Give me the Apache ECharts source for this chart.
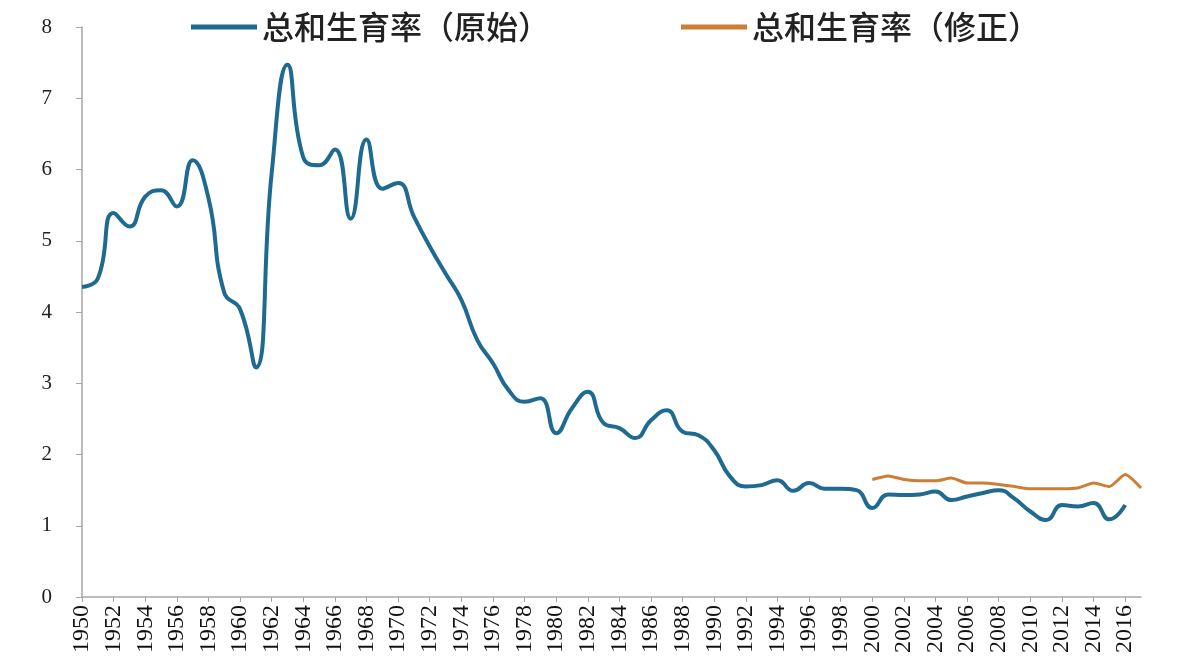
<!DOCTYPE html>
<html>
<head>
<meta charset="utf-8">
<script src="https://cdn.jsdelivr.net/npm/echarts@6/dist/echarts.min.js"></script>
<style>
html,body{margin:0;padding:0;background:#fff;}
#chart{width:1200px;height:668px;}
</style>
</head>
<body>
<div id="chart"></div>
<script>
var years = [];
for (var y = 1950; y <= 2017; y++) years.push(String(y));

var seriesNames = ['总和生育率（原始）', '总和生育率（修正）'];

var rawTFR = [
  4.35, 4.47, 5.39, 5.20, 5.62, 5.71, 5.48, 6.13, 5.60, 4.27,
  4.04, 3.22, 5.95, 7.47, 6.17, 6.06, 6.28, 5.31, 6.42, 5.73,
  5.81, 5.34, 4.92, 4.54, 4.17, 3.61, 3.28, 2.90, 2.74, 2.79,
  2.30, 2.65, 2.88, 2.44, 2.37, 2.23, 2.48, 2.62, 2.32, 2.27,
  2.06, 1.69, 1.55, 1.57, 1.64, 1.49, 1.60, 1.52, 1.52, 1.50,
  1.25, 1.44, 1.43, 1.44, 1.48, 1.36, 1.41, 1.46, 1.50, 1.38,
  1.20, 1.08, 1.29, 1.27, 1.32, 1.09, 1.29, null
];

var adjTFR = [
  null, null, null, null, null, null, null, null, null, null,
  null, null, null, null, null, null, null, null, null, null,
  null, null, null, null, null, null, null, null, null, null,
  null, null, null, null, null, null, null, null, null, null,
  null, null, null, null, null, null, null, null, null, null,
  1.65, 1.70, 1.65, 1.63, 1.63, 1.67, 1.60, 1.60, 1.58, 1.55,
  1.52, 1.52, 1.52, 1.53, 1.60, 1.55, 1.72, 1.53
];

var yTicks = [0, 1, 2, 3, 4, 5, 6, 7, 8];

var chart = echarts.init(document.getElementById('chart'));
var legendText = {fontFamily: '"Noto Sans CJK SC", sans-serif', fontSize: 32, fontWeight: 500, color: '#222'};
chart.setOption({
  backgroundColor: '#fff',
  animation: false,
  legend: [
    {data: [seriesNames[0]], left: 186, top: 6, icon: 'rect', itemWidth: 66, itemHeight: 5, itemGap: 6, textStyle: legendText},
    {data: [seriesNames[1]], left: 676, top: 6, icon: 'rect', itemWidth: 66, itemHeight: 5, itemGap: 6, textStyle: legendText}
  ],
  grid: {left: 82, right: 59, top: 27, bottom: 71, containLabel: false},
  xAxis: {
    type: 'category',
    data: years,
    boundaryGap: false,
    axisLine: {lineStyle: {color: '#a6a6a6', width: 1.5}},
    axisTick: {show: true, interval: 1, length: 5, lineStyle: {color: '#a6a6a6'}},
    axisLabel: {
      interval: 1, rotate: 90, margin: 8,
      fontFamily: '"Liberation Serif", serif', fontSize: 24, color: '#111'
    },
    splitLine: {show: false}
  },
  yAxis: {
    type: 'value',
    min: yTicks[0], max: yTicks[yTicks.length - 1], interval: 1,
    axisLine: {show: true, lineStyle: {color: '#a6a6a6', width: 1.5}},
    axisTick: {show: true, length: 6, lineStyle: {color: '#a6a6a6'}},
    axisLabel: {margin: 30, fontFamily: '"Liberation Serif", serif', fontSize: 21, color: '#222'},
    splitLine: {show: false}
  },
  series: [
    {
      name: seriesNames[0], type: 'line', data: rawTFR, smooth: 0.5,
      symbol: 'none', connectNulls: false,
      itemStyle: {color: '#1f6a90'},
      lineStyle: {color: '#1f6a90', width: 4}
    },
    {
      name: seriesNames[1], type: 'line', data: adjTFR, smooth: 0.2,
      symbol: 'none',
      itemStyle: {color: '#cf7d35'},
      lineStyle: {color: '#cf7d35', width: 3}
    }
  ]
});
</script>
</body>
</html>
